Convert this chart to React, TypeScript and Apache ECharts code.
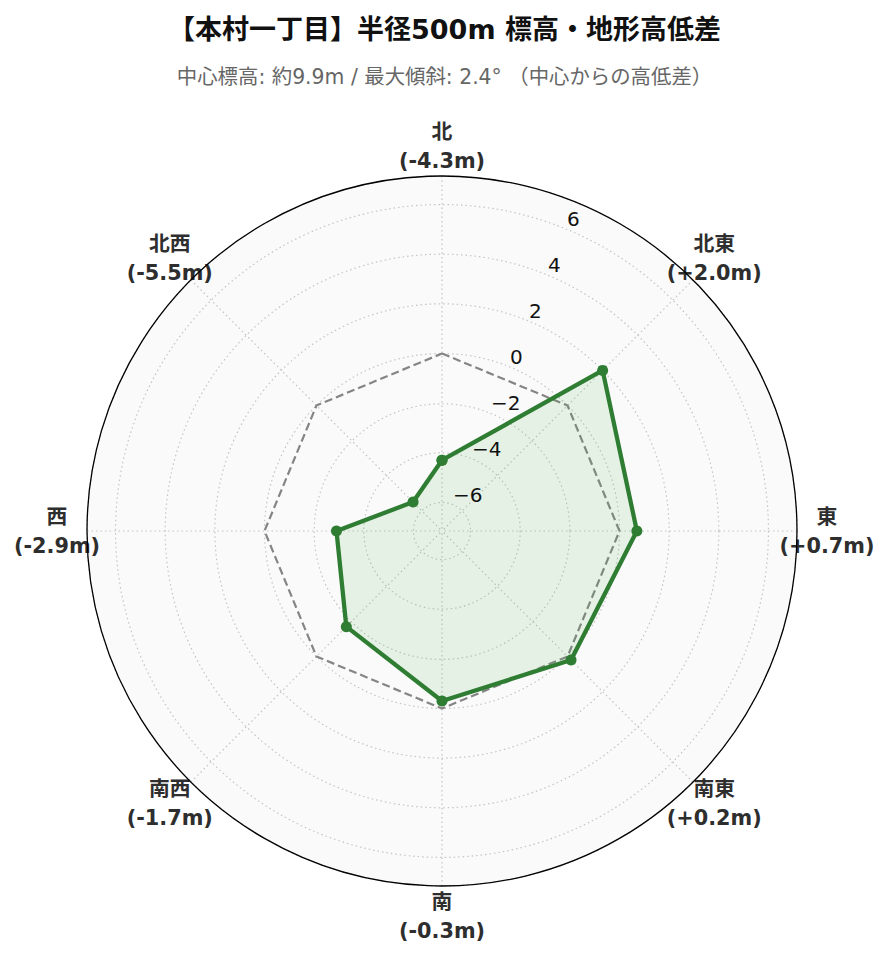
import React, { useEffect, useRef } from 'react';
import * as echarts from 'echarts';

// ---- data ----
const directions = ['北', '北東', '東', '南東', '南', '南西', '西', '北西'];
const bearings = [0, 45, 90, 135, 180, 225, 270, 315];
const elevationDiff = [-4.3, 2.0, 0.7, 0.2, -0.3, -1.7, -2.9, -5.5];
const referenceLevel = [0, 0, 0, 0, 0, 0, 0, 0];
const radialTicks = [-6, -4, -2, 0, 2, 4, 6];
const radialMin = -7.15;
const radialMax = 7.15;
const titleText = '【本村一丁目】半径500m 標高・地形高低差';
const subtitleText = '中心標高: 約9.9m / 最大傾斜: 2.4° （中心からの高低差）';

const FONT = "'DejaVu Sans', 'Noto Sans CJK JP', sans-serif";

const closedRing = (vals: number[]) => [
  ...vals.map((v, i) => [v, bearings[i]]),
  [vals[0], 360],
];

const fmtDiff = (v: number) => (v > 0 ? '+' + v.toFixed(1) : v.toFixed(1));

const fmtTick = (v: number) => {
  const r = Math.round(v * 100) / 100;
  if (!radialTicks.includes(r)) return '';
  return r < 0 ? '\u2212' + String(-r) : String(r);
};

export default function App() {
  const ref = useRef<HTMLDivElement>(null);
  useEffect(() => {
    if (!ref.current) return;
    const chart = echarts.init(ref.current, null, { renderer: 'svg' });
    const center = [442, 531];
    const R = 355;
    const labelR = 385;
    const gridLine = { color: '#c4c4c4', width: 1.2, type: [1.5, 3] as any };
    const hiddenAxis = {
      axisLine: { show: false }, axisTick: { show: false }, axisLabel: { show: false },
      splitLine: { show: false }, splitArea: { show: false },
    };

    const option: any = {
      animation: false,
      backgroundColor: '#ffffff',
      textStyle: { fontFamily: FONT },
      title: [
        {
          text: titleText,
          left: 'center',
          top: 8,
          textStyle: { fontSize: 27, fontWeight: 'bold', color: '#111111', fontFamily: FONT, lineHeight: 32 },
        },
        {
          text: subtitleText,
          left: 'center',
          top: 60,
          textStyle: { fontSize: 20.4, fontWeight: 'normal', color: '#666666', fontFamily: FONT, lineHeight: 24 },
        },
      ],
      polar: [
        { center, radius: R },
        { center, radius: labelR },
        { center, radius: R },
        { center, radius: R },
      ],
      angleAxis: [
        {
          polarIndex: 0, type: 'value', min: 0, max: 360, interval: 45, startAngle: 90, clockwise: true, z: 0,
          ...hiddenAxis,
          splitArea: { show: true, areaStyle: { color: ['#fafafa'] } },
        },
        { polarIndex: 1, type: 'value', min: 0, max: 360, startAngle: 90, clockwise: true, show: false },
        {
          polarIndex: 2, type: 'value', min: 0, max: 360, startAngle: 67.5, clockwise: true, z: 10,
          ...hiddenAxis,
          axisLine: { show: true, lineStyle: { color: '#000000', width: 1.3 } },
        },
        {
          polarIndex: 3, type: 'value', min: 0, max: 360, interval: 45, startAngle: 90, clockwise: true, z: 1,
          ...hiddenAxis,
          splitLine: { show: true, lineStyle: gridLine },
        },
      ],
      radiusAxis: [
        { polarIndex: 0, type: 'value', min: radialMin, max: radialMax, splitNumber: 7, z: 0, ...hiddenAxis },
        { polarIndex: 1, type: 'value', min: 0, max: 1, show: false },
        {
          polarIndex: 2, type: 'value', min: radialMin, max: radialMax, splitNumber: 7, z: 10,
          ...hiddenAxis,
          axisLabel: {
            show: true, showMinLabel: false, showMaxLabel: false, margin: 0,
            align: 'left', verticalAlign: 'bottom',
            fontSize: 20, color: '#111111', fontFamily: FONT,
            formatter: fmtTick,
          },
        },
        {
          polarIndex: 3, type: 'value', min: radialMin, max: radialMax, splitNumber: 7, z: 1,
          ...hiddenAxis,
          splitLine: { show: true, lineStyle: gridLine },
        },
      ],
      series: [
        {
          type: 'line', coordinateSystem: 'polar', polarIndex: 0, z: 2, silent: true,
          data: closedRing(referenceLevel), symbol: 'none',
          lineStyle: { color: '#858585', width: 2.2, type: [8, 4] },
        },
        {
          type: 'line', coordinateSystem: 'polar', polarIndex: 0, z: 3, silent: true,
          data: closedRing(elevationDiff), symbol: 'circle', symbolSize: 11,
          lineStyle: { color: '#2e7d32', width: 4.3 },
          itemStyle: { color: '#2e7d32' },
          areaStyle: { color: 'rgba(76,175,80,0.17)', origin: 'start' },
        },
        {
          type: 'scatter', coordinateSystem: 'polar', polarIndex: 1, z: 1, silent: true,
          symbolSize: 0,
          itemStyle: { color: '#333333', opacity: 1 },
          data: bearings.map((b, i) => ({
            value: [1, b],
            name: directions[i],
          })),
          label: {
            show: true, position: 'inside', align: 'center', verticalAlign: 'middle',
            fontSize: 20.8, fontWeight: 'bold', color: '#2e2e2e', opacity: 1, lineHeight: 29, fontFamily: FONT,
            formatter: (p: any) => `${directions[p.dataIndex]}\n(${fmtDiff(elevationDiff[p.dataIndex])}m)`,
          },
        },
      ],
    };
    chart.setOption(option);
    return () => chart.dispose();
  }, []);
  return <div ref={ref} style={{ position: 'fixed', left: 0, top: 0, width: 889, height: 962 }} />;
}
